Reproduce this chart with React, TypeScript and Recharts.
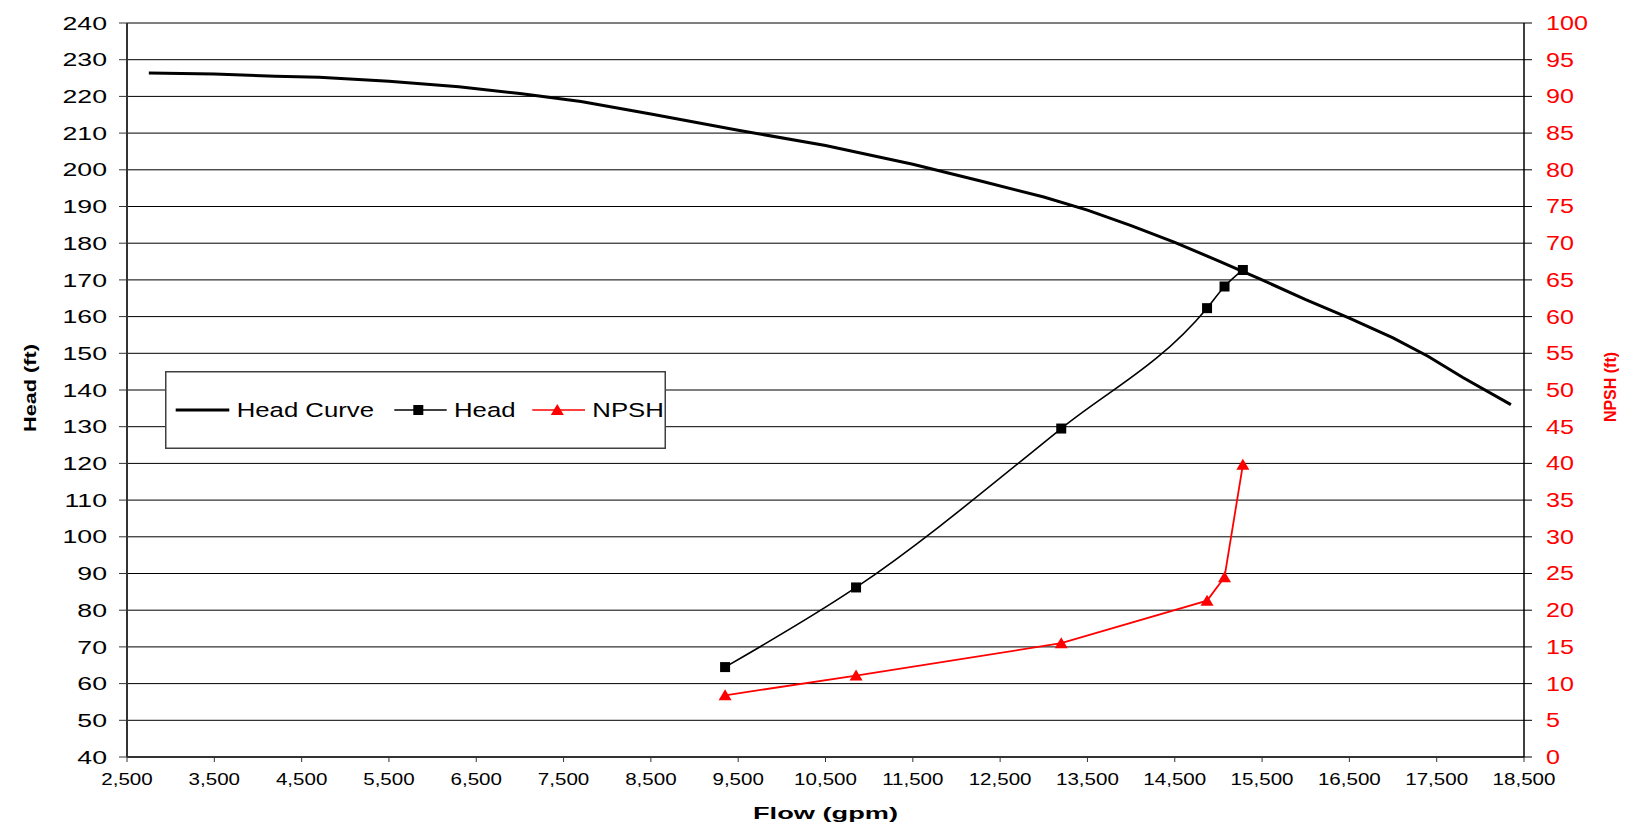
import React from 'react';
import { LineChart, Line, XAxis, YAxis, CartesianGrid, Legend } from 'recharts';

const curveFlow = [2750, 3500, 4200, 4700, 5500, 6300, 7000, 7700, 8500, 9500, 10500, 11500, 12300, 13000, 13500, 14000, 14500, 15000, 15500, 16000, 16500, 17000, 17400, 17800, 18350];
const curveHead = [226.4, 226.1, 225.5, 225.2, 224.1, 222.6, 220.8, 218.6, 215.2, 210.8, 206.6, 201.5, 196.8, 192.6, 189, 184.8, 180.2, 175.2, 170, 164.6, 159.6, 154.2, 149.2, 143.4, 136];
const testFlow = [9350, 10850, 13200, 14870, 15070, 15280];
const testHead = [64.5, 86.2, 129.5, 162.3, 168.2, 172.7];
const testNpsh = [8.4, 11.1, 15.5, 21.3, 24.5, 39.8];
const flowTicks = [2500, 3500, 4500, 5500, 6500, 7500, 8500, 9500, 10500, 11500, 12500, 13500, 14500, 15500, 16500, 17500, 18500];
const headTicks = [40, 50, 60, 70, 80, 90, 100, 110, 120, 130, 140, 150, 160, 170, 180, 190, 200, 210, 220, 230, 240];
const npshTicks = [0, 5, 10, 15, 20, 25, 30, 35, 40, 45, 50, 55, 60, 65, 70, 75, 80, 85, 90, 95, 100];

const curveData = curveFlow.map((f, i) => ({ flow: f, head: curveHead[i] }));
const headData = testFlow.map((f, i) => ({ flow: f, head: testHead[i] }));
const npshData = testFlow.map((f, i) => ({ flow: f, npsh: testNpsh[i] }));

const FONT = '"Liberation Sans", Arial, sans-serif';

const fmt = (v: number) => v.toLocaleString('en-US');

const LeftTick = (props: any) => {
  const { x, y, payload } = props;
  return (
    <g transform={`translate(${x},${y})`}>
      <text transform="scale(1.45,1)" textAnchor="end" dy="0.36em" fontSize={18.4} fontFamily={FONT} fill="#000">
        {payload.value}
      </text>
    </g>
  );
};

const RightTick = (props: any) => {
  const { x, y, payload } = props;
  return (
    <g transform={`translate(${x},${y})`}>
      <text transform="scale(1.3,1)" textAnchor="start" dy="0.36em" fontSize={19.3} fontFamily={FONT} fill="#ff0000">
        {payload.value}
      </text>
    </g>
  );
};

const BottomTick = (props: any) => {
  const { x, y, payload } = props;
  return (
    <g transform={`translate(${x},${y})`}>
      <text transform="scale(1.27,1)" textAnchor="middle" dy={21} fontSize={16.2} fontFamily={FONT} fill="#000">
        {fmt(payload.value)}
      </text>
    </g>
  );
};

const XLabel = (props: any) => {
  const vb = props.viewBox || {};
  const cx = vb.x + vb.width / 2;
  return (
    <g transform={`translate(${cx},${vb.y + 62})`}>
      <text transform="scale(1.62,1)" textAnchor="middle" fontSize={16.8} fontWeight="bold" fontFamily={FONT} fill="#000">
        Flow (gpm)
      </text>
    </g>
  );
};

const LeftLabel = (props: any) => {
  const vb = props.viewBox || {};
  const cy = vb.y + vb.height / 2 - 2;
  return (
    <g transform={`translate(${vb.x + 22},${cy}) rotate(-90)`}>
      <text transform="scale(1.29,1)" textAnchor="middle" dy="0.36em" fontSize={16.8} fontWeight="bold" fontFamily={FONT} fill="#000">
        Head (ft)
      </text>
    </g>
  );
};

const RightLabel = (props: any) => {
  const vb = props.viewBox || {};
  const cy = vb.y + vb.height / 2 - 3;
  return (
    <g transform={`translate(${vb.x + 86},${cy}) rotate(-90)`}>
      <text textAnchor="middle" dy="0.36em" fontSize={16} fontWeight="bold" fontFamily={FONT} fill="#ff0000">
        NPSH (ft)
      </text>
    </g>
  );
};

const SquareDot = (props: any) => {
  const { cx, cy, index } = props;
  if (cx == null || cy == null) return null;
  return <rect key={`sq-${index}`} x={cx - 5} y={cy - 5} width={10} height={10} fill="#000" />;
};

const TriDot = (props: any) => {
  const { cx, cy, index } = props;
  if (cx == null || cy == null) return null;
  return (
    <polygon
      key={`tr-${index}`}
      points={`${cx},${cy - 6} ${cx - 6.5},${cy + 5} ${cx + 6.5},${cy + 5}`}
      fill="#ff0000"
    />
  );
};

const LegendBox = () => (
  <svg width={501} height={78} style={{ display: 'block' }}>
    <rect x={0.75} y={0.75} width={499.5} height={76.5} fill="#fff" stroke="#404040" strokeWidth={1.5} />
    <line x1={10.7} y1={39} x2={64.3} y2={39} stroke="#000" strokeWidth={3} />
    <g transform="translate(71.7,39)">
      <text transform="scale(1.32,1)" dy="0.36em" fontSize={19.5} fontFamily={FONT} fill="#000">Head Curve</text>
    </g>
    <line x1={229.3} y1={39} x2={281.7} y2={39} stroke="#000" strokeWidth={1.5} />
    <rect x={248.3} y={34} width={10} height={10} fill="#000" />
    <g transform="translate(289,39)">
      <text transform="scale(1.32,1)" dy="0.36em" fontSize={19.5} fontFamily={FONT} fill="#000">Head</text>
    </g>
    <line x1={367.3} y1={39} x2={420} y2={39} stroke="#ff0000" strokeWidth={1.5} />
    <polygon points="392.3,33 385.8,44 398.8,44" fill="#ff0000" />
    <g transform="translate(427.3,39)">
      <text transform="scale(1.32,1)" dy="0.36em" fontSize={19.5} fontFamily={FONT} fill="#000">NPSH</text>
    </g>
  </svg>
);

export default function App() {
  return (
    <div style={{ width: 1611, height: 818, position: 'relative' }}>
      <LineChart width={1611} height={818} margin={{ top: 15, right: 0, bottom: 29, left: 0 }}>
        <CartesianGrid yAxisId="left" vertical={false} horizontal={true} stroke="#000" strokeWidth={1} />
        <XAxis
          type="number"
          dataKey="flow"
          domain={[2500, 18500]}
          ticks={flowTicks}
          allowDataOverflow
          height={40}
          tickSize={5}
          tickMargin={2}
          tick={<BottomTick />}
          axisLine={{ stroke: '#333', strokeWidth: 2 }}
          tickLine={{ stroke: '#333' }}
          label={<XLabel />}
        />
        <YAxis
          yAxisId="left"
          orientation="left"
          type="number"
          domain={[40, 240]}
          ticks={headTicks}
          allowDataOverflow
          width={119}
          tickSize={8}
          tickMargin={12}
          tick={<LeftTick />}
          axisLine={{ stroke: '#333', strokeWidth: 2 }}
          tickLine={{ stroke: '#333' }}
          label={<LeftLabel />}
        />
        <YAxis
          yAxisId="right"
          orientation="right"
          type="number"
          domain={[0, 100]}
          ticks={npshTicks}
          allowDataOverflow
          width={95}
          tickSize={8}
          tickMargin={14}
          tick={<RightTick />}
          axisLine={{ stroke: '#000', strokeWidth: 1.5 }}
          tickLine={{ stroke: '#000' }}
          label={<RightLabel />}
        />
        <Legend
          layout="horizontal"
          verticalAlign="middle"
          align="center"
          content={<LegendBox />}
          wrapperStyle={{ position: 'absolute', left: 157, top: 363, width: 501, height: 78 }}
        />
        <Line
          yAxisId="left"
          data={curveData}
          dataKey="head"
          name="Head Curve"
          type="linear"
          stroke="#000"
          strokeWidth={3}
          dot={false}
          activeDot={false}
          isAnimationActive={false}
        />
        <Line
          yAxisId="left"
          data={headData}
          dataKey="head"
          name="Head"
          type="monotone"
          stroke="#000"
          strokeWidth={1.6}
          dot={<SquareDot />}
          activeDot={false}
          isAnimationActive={false}
        />
        <Line
          yAxisId="right"
          data={npshData}
          dataKey="npsh"
          name="NPSH"
          type="linear"
          stroke="#ff0000"
          strokeWidth={1.8}
          dot={<TriDot />}
          activeDot={false}
          isAnimationActive={false}
        />
      </LineChart>
    </div>
  );
}
